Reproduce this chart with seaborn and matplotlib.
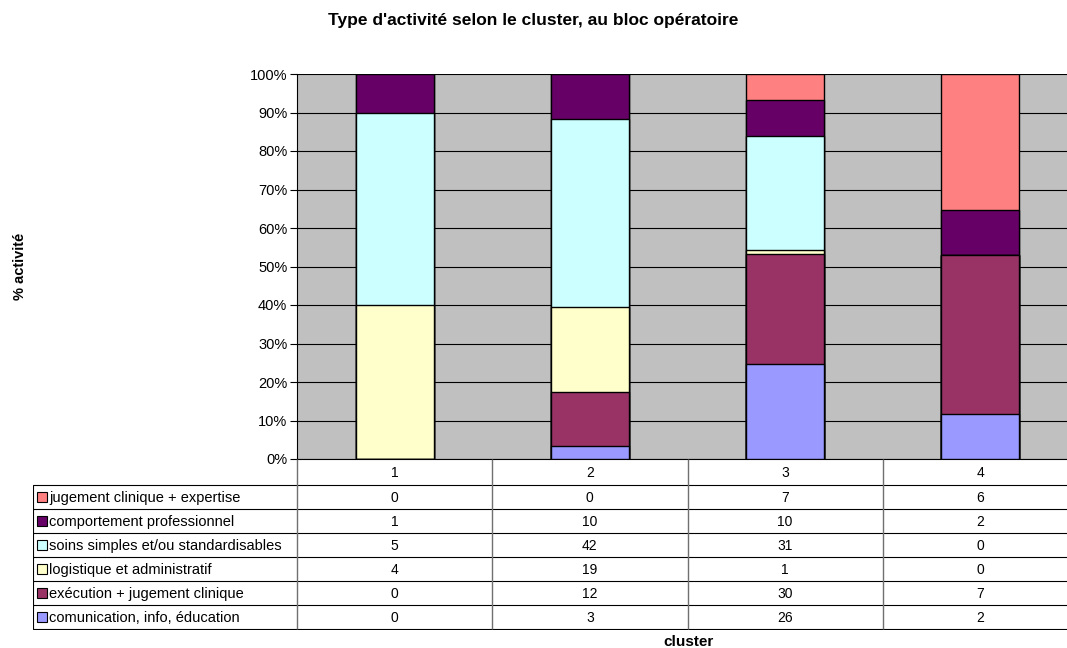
import numpy as np
import pandas as pd
import matplotlib
matplotlib.use("Agg")
import matplotlib.pyplot as plt
import seaborn as sns

# Activity counts per cluster (bottom series first)
clusters = ["1", "2", "3", "4"]
series_names = [
    "comunication, info, éducation",
    "exécution + jugement clinique",
    "logistique et administratif",
    "soins simples et/ou standardisables",
    "comportement professionnel",
    "jugement clinique + expertise",
]
comunication = [0, 3, 26, 2]
execution = [0, 12, 30, 7]
logistique = [4, 19, 1, 0]
soins = [5, 42, 31, 0]
comportement = [1, 10, 10, 2]
jugement = [0, 0, 7, 6]
series_colors = ["#9999FF", "#993366", "#FFFFCC", "#CCFFFF", "#660066", "#FF8080"]

title = "Type d'activité selon le cluster, au bloc opératoire"
y_label = "% activité"
x_label = "cluster"
y_ticks = list(range(0, 101, 10))

sns.set_theme(style="white")
plt.rcParams["font.family"] = ["Liberation Sans", "DejaVu Sans"]

counts = np.array([comunication, execution, logistique, soins, comportement, jugement], dtype=float)
totals = counts.sum(axis=0)
cum_pct = np.cumsum(counts, axis=0) / totals * 100

W, H = 1067, 648
fig = plt.figure(figsize=(W / 100, H / 100), dpi=100)
fig.patch.set_facecolor("white")


def rect(x0, y0, x1, y1):
    return [x0 / W, 1 - y1 / H, (x1 - x0) / W, (y1 - y0) / H]


PL, PT, PR, PB = 297, 74, 1078, 459
ax = fig.add_axes(rect(PL, PT, PR, PB))
ax.set_facecolor("#C0C0C0")

# Stacked bars: draw cumulative totals from the top series down
for i in range(len(series_names) - 1, -1, -1):
    df = pd.DataFrame({"cluster": clusters, "pct": cum_pct[i]})
    sns.barplot(data=df, x="cluster", y="pct", color=series_colors[i],
                saturation=1, width=0.4, edgecolor="black", linewidth=1.0,
                errorbar=None, ax=ax, zorder=3)

ax.set_ylim(0, 100)
ax.set_xlim(-0.5, len(clusters) - 0.5)
ax.set_yticks(y_ticks)
ax.set_yticklabels([f"{t}%" for t in y_ticks], fontsize=10.5, color="black")
ax.set_xticks([])
ax.set_xlabel("")
ax.set_ylabel("")
for t in y_ticks:
    ax.axhline(t, color="black", linewidth=0.8, zorder=1)
ax.tick_params(axis="y", which="major", left=True, length=5, width=0.8,
               color="black", pad=2)
for side in ["top", "right"]:
    ax.spines[side].set_visible(False)
ax.spines["left"].set_color("black")
ax.spines["left"].set_linewidth(0.8)
ax.spines["bottom"].set_color("black")
ax.spines["bottom"].set_linewidth(0.8)

# Data table below the plot
TL = 33
row_top = 485
row_h = 24
n_rows = len(series_names)
TB = row_top + n_rows * row_h
tax = fig.add_axes(rect(TL, PB, PR, TB + 1))
tax.set_xlim(TL, PR)
tax.set_ylim(TB + 1, PB)
tax.axis("off")

col_w = (PR - PL) / len(clusters)
col_edges = [PL + k * col_w for k in range(len(clusters) + 1)]

# grid lines
for r in range(n_rows + 1):
    y = row_top + r * row_h
    tax.plot([TL, PR], [y, y], color="black", linewidth=0.8, solid_capstyle="butt")
for x in col_edges:
    tax.plot([x, x], [PB, TB], color="#707070", linewidth=1.0, solid_capstyle="butt")
tax.plot([TL, TL], [row_top, TB], color="black", linewidth=0.8)

# header row with cluster numbers
for k, c in enumerate(clusters):
    tax.text(col_edges[k] + col_w / 2, (PB + row_top) / 2 + 1, c,
             ha="center", va="center", fontsize=10, color="black")

# rows: top series first
for r, idx in enumerate(range(n_rows - 1, -1, -1)):
    yc = row_top + r * row_h + row_h / 2
    tax.add_patch(plt.Rectangle((36.5, yc - 5), 10, 10, facecolor=series_colors[idx],
                                edgecolor="black", linewidth=0.8))
    tax.text(49, yc + 1, series_names[idx], ha="left", va="center",
             fontsize=10.5, color="black")
    for k in range(len(clusters)):
        tax.text(col_edges[k] + col_w / 2, yc + 1, f"{int(counts[idx, k])}",
                 ha="center", va="center", fontsize=10, color="black")

fig.text(533 / W, 1 - 20 / H, title, ha="center", va="center",
         fontsize=12.5, fontweight="bold", color="black")
fig.text(20 / W, 1 - 266 / H, y_label, ha="center", va="center", rotation=90,
         fontsize=10.5, fontweight="bold", color="black")
fig.text(688 / W, 1 - 642 / H, x_label, ha="center", va="center",
         fontsize=11, fontweight="bold", color="black")

fig.savefig("out.png", dpi=100, facecolor="white")
